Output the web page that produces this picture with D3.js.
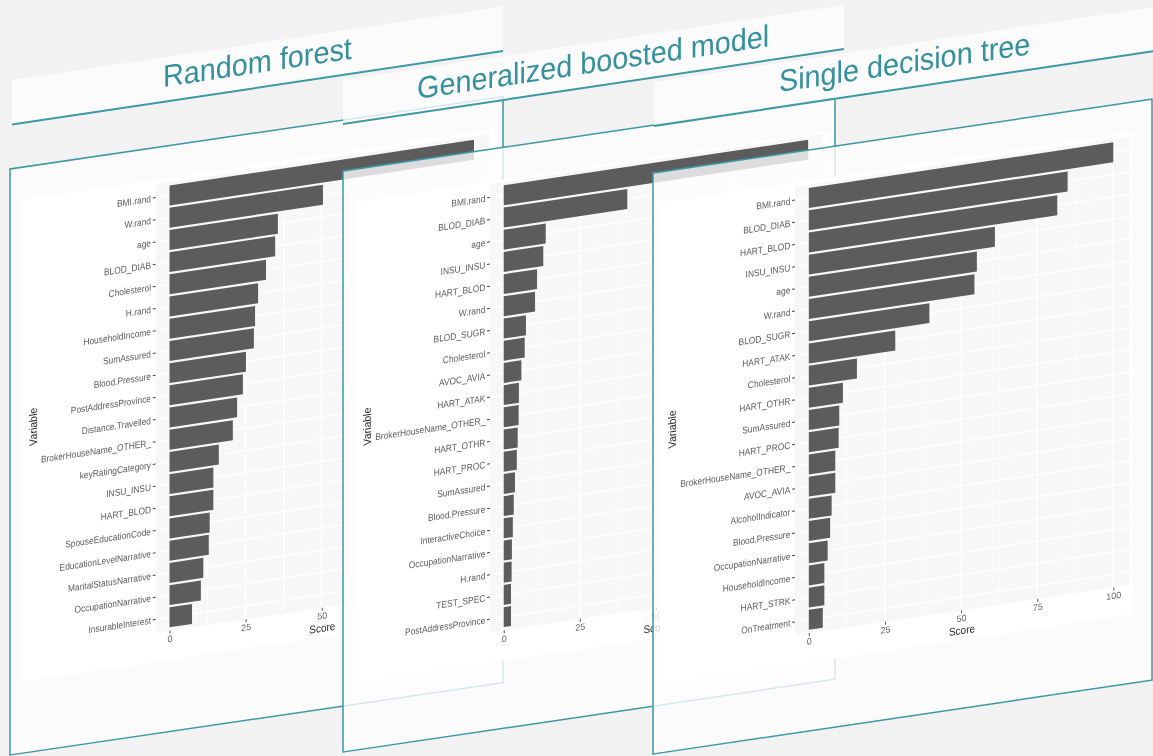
<!DOCTYPE html>
<html>
<head>
<meta charset="utf-8">
<script src="https://cdn.jsdelivr.net/npm/d3@7/dist/d3.min.js"></script>
<style>
html,body{margin:0;padding:0;background:#f2f2f2;overflow:hidden}
svg{display:block;filter:blur(0.55px)}
text{font-family:"Liberation Sans",Arial,sans-serif}
</style>
</head>
<body>
<svg id="c" width="1153" height="756"></svg>
<script>
const titles = ["Random forest", "Generalized boosted model", "Single decision tree"];

const rfLabels = ["BMI.rand","W.rand","age","BLOD_DIAB","Cholesterol","H.rand","HouseholdIncome","SumAssured","Blood.Pressure","PostAddressProvince","Distance.Travelled","BrokerHouseName_OTHER_","keyRatingCategory","INSU_INSU","HART_BLOD","SpouseEducationCode","EducationLevelNarrative","MaritalStatusNarrative","OccupationNarrative","InsurableInterest"];
const rfValues = [100,50.4,35.6,34.7,31.7,29.1,28.1,27.7,25.1,24.1,22.2,20.8,16.2,14.4,14.4,13.2,12.9,11.1,10.3,7.4];

const gbmLabels = ["BMI.rand","BLOD_DIAB","age","INSU_INSU","HART_BLOD","W.rand","BLOD_SUGR","Cholesterol","AVOC_AVIA","HART_ATAK","BrokerHouseName_OTHER_","HART_OTHR","HART_PROC","SumAssured","Blood.Pressure","InteractiveChoice","OccupationNarrative","H.rand","TEST_SPEC","PostAddressProvince"];
const gbmValues = [100,40.6,13.8,13.0,10.95,10.3,7.3,6.9,5.8,5.0,4.9,4.6,4.3,3.7,3.3,3.0,2.7,2.6,2.4,2.4];

const treeLabels = ["BMI.rand","BLOD_DIAB","HART_BLOD","INSU_INSU","age","W.rand","BLOD_SUGR","HART_ATAK","Cholesterol","HART_OTHR","SumAssured","HART_PROC","BrokerHouseName_OTHER_","AVOC_AVIA","AlcoholIndicator","Blood.Pressure","OccupationNarrative","HouseholdIncome","HART_STRK","OnTreatment"];
const treeValues = [100,85,81.6,61.1,55.2,54.4,39.6,28.4,15.8,11.2,10.0,9.8,8.7,8.7,7.5,7.0,6.2,5.1,5.1,4.6];

const majorTicks = [0,25,50,75,100];
const minorTicks = [12.5,37.5,62.5,87.5];

const TEAL = "#3d98a4";
const svg = d3.select("#c");

// Layout of each sheet: all of it describes the page, none of it the values.
const sheets = [
 {title:titles[0],labels:rfLabels,values:rfValues,
  header:{l:12,r:503,top:80,bot:124.5,k:-0.1497,tx:163,ty:87},
  frame:{l:10,r:503,top:169,bot:755,k:-0.147},
  card:{l:22,r:495,top:200,bot:682},
  zero:169.5,yTop:182.2,plotL:155.7,plotR:489,varX:37},
 {title:titles[1],labels:gbmLabels,values:gbmValues,
  header:{l:343,r:844,top:80,bot:124,k:-0.1497,tx:417,ty:99},
  frame:{l:343,r:835,top:171,bot:752,k:-0.148},
  card:{l:356,r:829,top:202,bot:683},
  zero:503.7,yTop:182,plotL:490,plotR:823,varX:371},
 {title:titles[2],labels:treeLabels,values:treeValues,
  header:{l:654,r:1165,top:82,bot:126,k:-0.15,tx:779,ty:92},
  frame:{l:653,r:1152,top:173,bot:754,k:-0.148},
  card:{l:660,r:1133,top:203,bot:685},
  zero:808.8,yTop:184.7,plotL:795,plotR:1129,varX:676}
];

const K = -0.15;           // shear of the charts
const ROW = 22.2;          // row pitch
const PLOT_H = ROW*20.2;
const SCORE_W = 304.5;     // width of score 0..100

function sheared(k,ox,oy){
  return svg.append("g").attr("transform",`matrix(1,${k},0,1,${ox},${oy})`);
}

sheets.forEach(s=>{
  // title band
  const h = s.header;
  const hg = sheared(h.k,h.l,h.top);
  hg.append("rect").attr("width",h.r-h.l).attr("height",h.bot-h.top)
    .attr("fill","#fdfdfd").attr("fill-opacity",0.8);
  hg.append("line").attr("x1",0).attr("x2",h.r-h.l)
    .attr("y1",h.bot-h.top).attr("y2",h.bot-h.top)
    .attr("stroke",TEAL).attr("stroke-width",2);
  hg.append("text")
    .attr("transform",`translate(${h.tx-h.l},${h.ty-h.top-h.k*(h.tx-h.l)}) scale(1,1.07)`)
    .attr("font-size",28.8).attr("fill","#35909e").text(s.title);

  // frame
  const f = s.frame;
  sheared(f.k,f.l,f.top).append("rect")
    .attr("width",f.r-f.l).attr("height",f.bot-f.top)
    .attr("fill","#fdfdfd").attr("fill-opacity",0.8)
    .attr("stroke",TEAL).attr("stroke-width",1.5);

  // chart card
  const c = s.card;
  sheared(K,c.l,c.top).append("rect")
    .attr("width",c.r-c.l).attr("height",c.bot-c.top).attr("fill","#ffffff");

  // chart
  const g = sheared(K,s.zero,s.yTop);
  const pl = s.plotL-s.zero, pr = s.plotR-s.zero;
  const x = d3.scaleLinear().domain([0,100]).range([0,SCORE_W]);
  const y = d3.scaleBand().domain(s.labels).range([0,PLOT_H]).paddingInner(0.1).paddingOuter(0.15);

  g.append("rect").attr("x",pl).attr("width",pr-pl).attr("height",PLOT_H).attr("fill","#f7f7f7");

  g.selectAll(".minor").data(minorTicks).join("line").attr("class","minor")
    .attr("x1",d=>x(d)).attr("x2",d=>x(d)).attr("y1",0).attr("y2",PLOT_H)
    .attr("stroke","#fff").attr("stroke-width",0.7);
  g.selectAll(".major").data(majorTicks).join("line").attr("class","major")
    .attr("x1",d=>x(d)).attr("x2",d=>x(d)).attr("y1",0).attr("y2",PLOT_H)
    .attr("stroke","#fff").attr("stroke-width",1.3);
  g.selectAll(".hgrid").data(s.labels).join("line").attr("class","hgrid")
    .attr("x1",pl).attr("x2",pr)
    .attr("y1",d=>y(d)+y.bandwidth()/2).attr("y2",d=>y(d)+y.bandwidth()/2)
    .attr("stroke","#fff").attr("stroke-width",1.3);

  g.selectAll(".bar").data(s.labels).join("rect").attr("class","bar")
    .attr("x",x(0)).attr("y",d=>y(d))
    .attr("width",(d,i)=>x(s.values[i])-x(0))
    .attr("height",y.bandwidth()).attr("fill","#5c5c5c");

  const ax = g.append("g").attr("transform",`translate(0,${PLOT_H})`)
    .call(d3.axisBottom(x).tickValues(majorTicks).tickSize(3).tickPadding(2));
  ax.select(".domain").remove();
  ax.selectAll("line").attr("stroke","#555");
  ax.selectAll("text").attr("fill","#666").attr("font-size",9).attr("font-family","Liberation Sans");

  const ay = g.append("g").attr("transform",`translate(${pl},0)`)
    .call(d3.axisLeft(y).tickSize(3).tickPadding(2));
  ay.select(".domain").remove();
  ay.selectAll("line").attr("stroke","#444");
  ay.selectAll("text").attr("fill","#5c5c5c").attr("font-size",9).attr("font-family","Liberation Sans")
    .attr("transform","translate(0,0.6) scale(0.935,1.06)");

  g.append("text").attr("transform",`translate(${(pl+pr)/2},${PLOT_H+24}) scale(1,1.1)`)
    .attr("text-anchor","middle").attr("font-size",10).attr("fill","#2a2a2a").text("Score");
  g.append("text")
    .attr("transform",`translate(${s.varX-s.zero},${PLOT_H/2}) rotate(-90) scale(1.05,1.1)`)
    .attr("text-anchor","middle").attr("font-size",10).attr("fill","#2a2a2a").text("Variable");
});
</script>
</body>
</html>
